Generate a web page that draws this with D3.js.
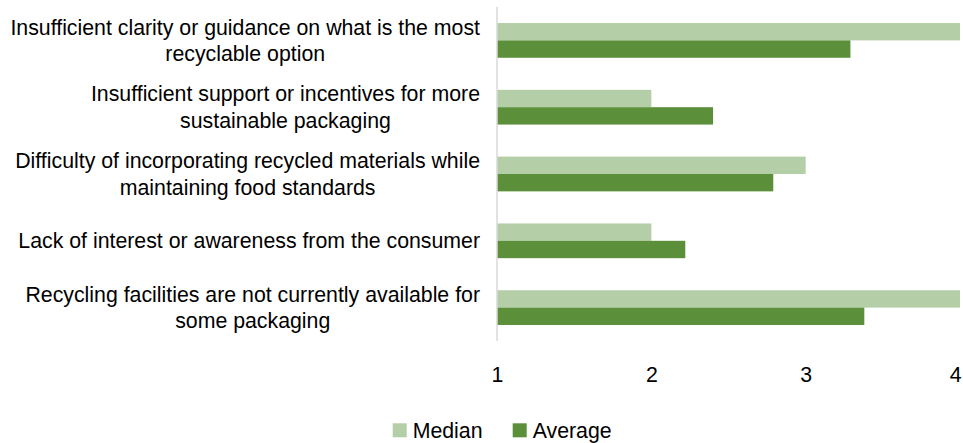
<!DOCTYPE html>
<html>
<head>
<meta charset="utf-8">
<script src="https://cdn.jsdelivr.net/npm/d3@7"></script>
<style>
  html, body { margin: 0; padding: 0; background: #fff; }
  svg { display: block; font-family: "Liberation Sans", Arial, sans-serif; }
</style>
</head>
<body>
<svg id="chart" width="963" height="443"></svg>
<script>
// Survey barriers, rated 1–4
const categories = [
  ["Insufficient clarity or guidance on what is the most", "recyclable option"],
  ["Insufficient support or incentives for more", "sustainable packaging"],
  ["Difficulty of incorporating recycled materials while", "maintaining food standards"],
  ["Lack of interest or awareness from the consumer"],
  ["Recycling facilities are not currently available for", "some packaging"]
];
const medianValues = [4, 2, 3, 2, 4];
const averageValues = [3.29, 2.40, 2.79, 2.22, 3.38];
const seriesNames = ["Median", "Average"];
const tickValues = [1, 2, 3, 4];

const colors = { Median: "#b4cfa7", Average: "#5b8f3a" };
const fontSize = 21.3;

const svg = d3.select("#chart");
const margin = { left: 497, right: 3, top: 7, bottom: 102 };
const W = 963, H = 443;

const x = d3.scaleLinear().domain([1, 4]).range([margin.left, W - margin.right]);
const y = d3.scaleBand()
  .domain(d3.range(categories.length))
  .range([margin.top, H - margin.bottom])
  .paddingInner(0.48).paddingOuter(0.24);
const inner = d3.scaleBand().domain(seriesNames).range([0, y.bandwidth()]);

const rows = categories.map((c, i) => ({
  i, lines: c,
  values: [
    { key: "Median", v: medianValues[i] },
    { key: "Average", v: averageValues[i] }
  ]
}));

// Bars
const g = svg.append("g");
rows.forEach(r => {
  g.selectAll(null).data(r.values).join("rect")
    .attr("x", x(1))
    .attr("y", d => y(r.i) + inner(d.key))
    .attr("width", d => x(d.v) - x(1))
    .attr("height", inner.bandwidth())
    .attr("fill", d => colors[d.key]);
});

// Vertical axis line at value 1
svg.append("line")
  .attr("x1", x(1)).attr("x2", x(1))
  .attr("y1", margin.top).attr("y2", H - margin.bottom)
  .attr("stroke", "#d9d9d9").attr("stroke-width", 1.5);

// Category labels: block right-aligned to the axis, lines centred within it
const labelRight = 480;
const lineH = 26.6;
rows.forEach(r => {
  const cy = y(r.i) + y.bandwidth() / 2;
  const n = r.lines.length;
  const t = svg.append("text")
    .attr("text-anchor", "middle")
    .attr("font-size", fontSize)
    .attr("fill", "#000");
  const spans = r.lines.map((ln, k) =>
    t.append("tspan")
      .attr("y", cy + (k - (n - 1) / 2) * lineH)
      .attr("dy", "0.35em")
      .text(ln));
  const maxW = d3.max(spans, s => s.node().getComputedTextLength());
  spans.forEach(s => s.attr("x", labelRight - maxW / 2));
});

// X axis tick labels
const xAxis = d3.axisBottom(x).tickValues(tickValues).tickSize(0).tickPadding(0).tickFormat(d3.format("d"));
const ax = svg.append("g").attr("transform", `translate(0,${H - margin.bottom})`).call(xAxis);
ax.select(".domain").remove();
ax.selectAll("text")
  .attr("font-size", fontSize)
  .attr("font-family", "Liberation Sans, Arial, sans-serif")
  .attr("fill", "#000")
  .attr("dy", "0.35em")
  .attr("y", 34);
// keep the last tick label inside the right edge
ax.selectAll(".tick").filter(d => d === tickValues[tickValues.length - 1])
  .select("text").attr("text-anchor", "end").attr("x", 1);

// Legend
const legendX = [392.7, 512.7];
const lg = svg.append("g");
seriesNames.forEach((s, k) => {
  lg.append("rect")
    .attr("x", legendX[k]).attr("y", 423.3)
    .attr("width", 14).attr("height", 14)
    .attr("fill", colors[s]);
  lg.append("text")
    .attr("x", legendX[k] + 20).attr("y", 430.3)
    .attr("dy", "0.35em")
    .attr("font-size", fontSize)
    .attr("fill", "#000")
    .text(s);
});
</script>
</body>
</html>
